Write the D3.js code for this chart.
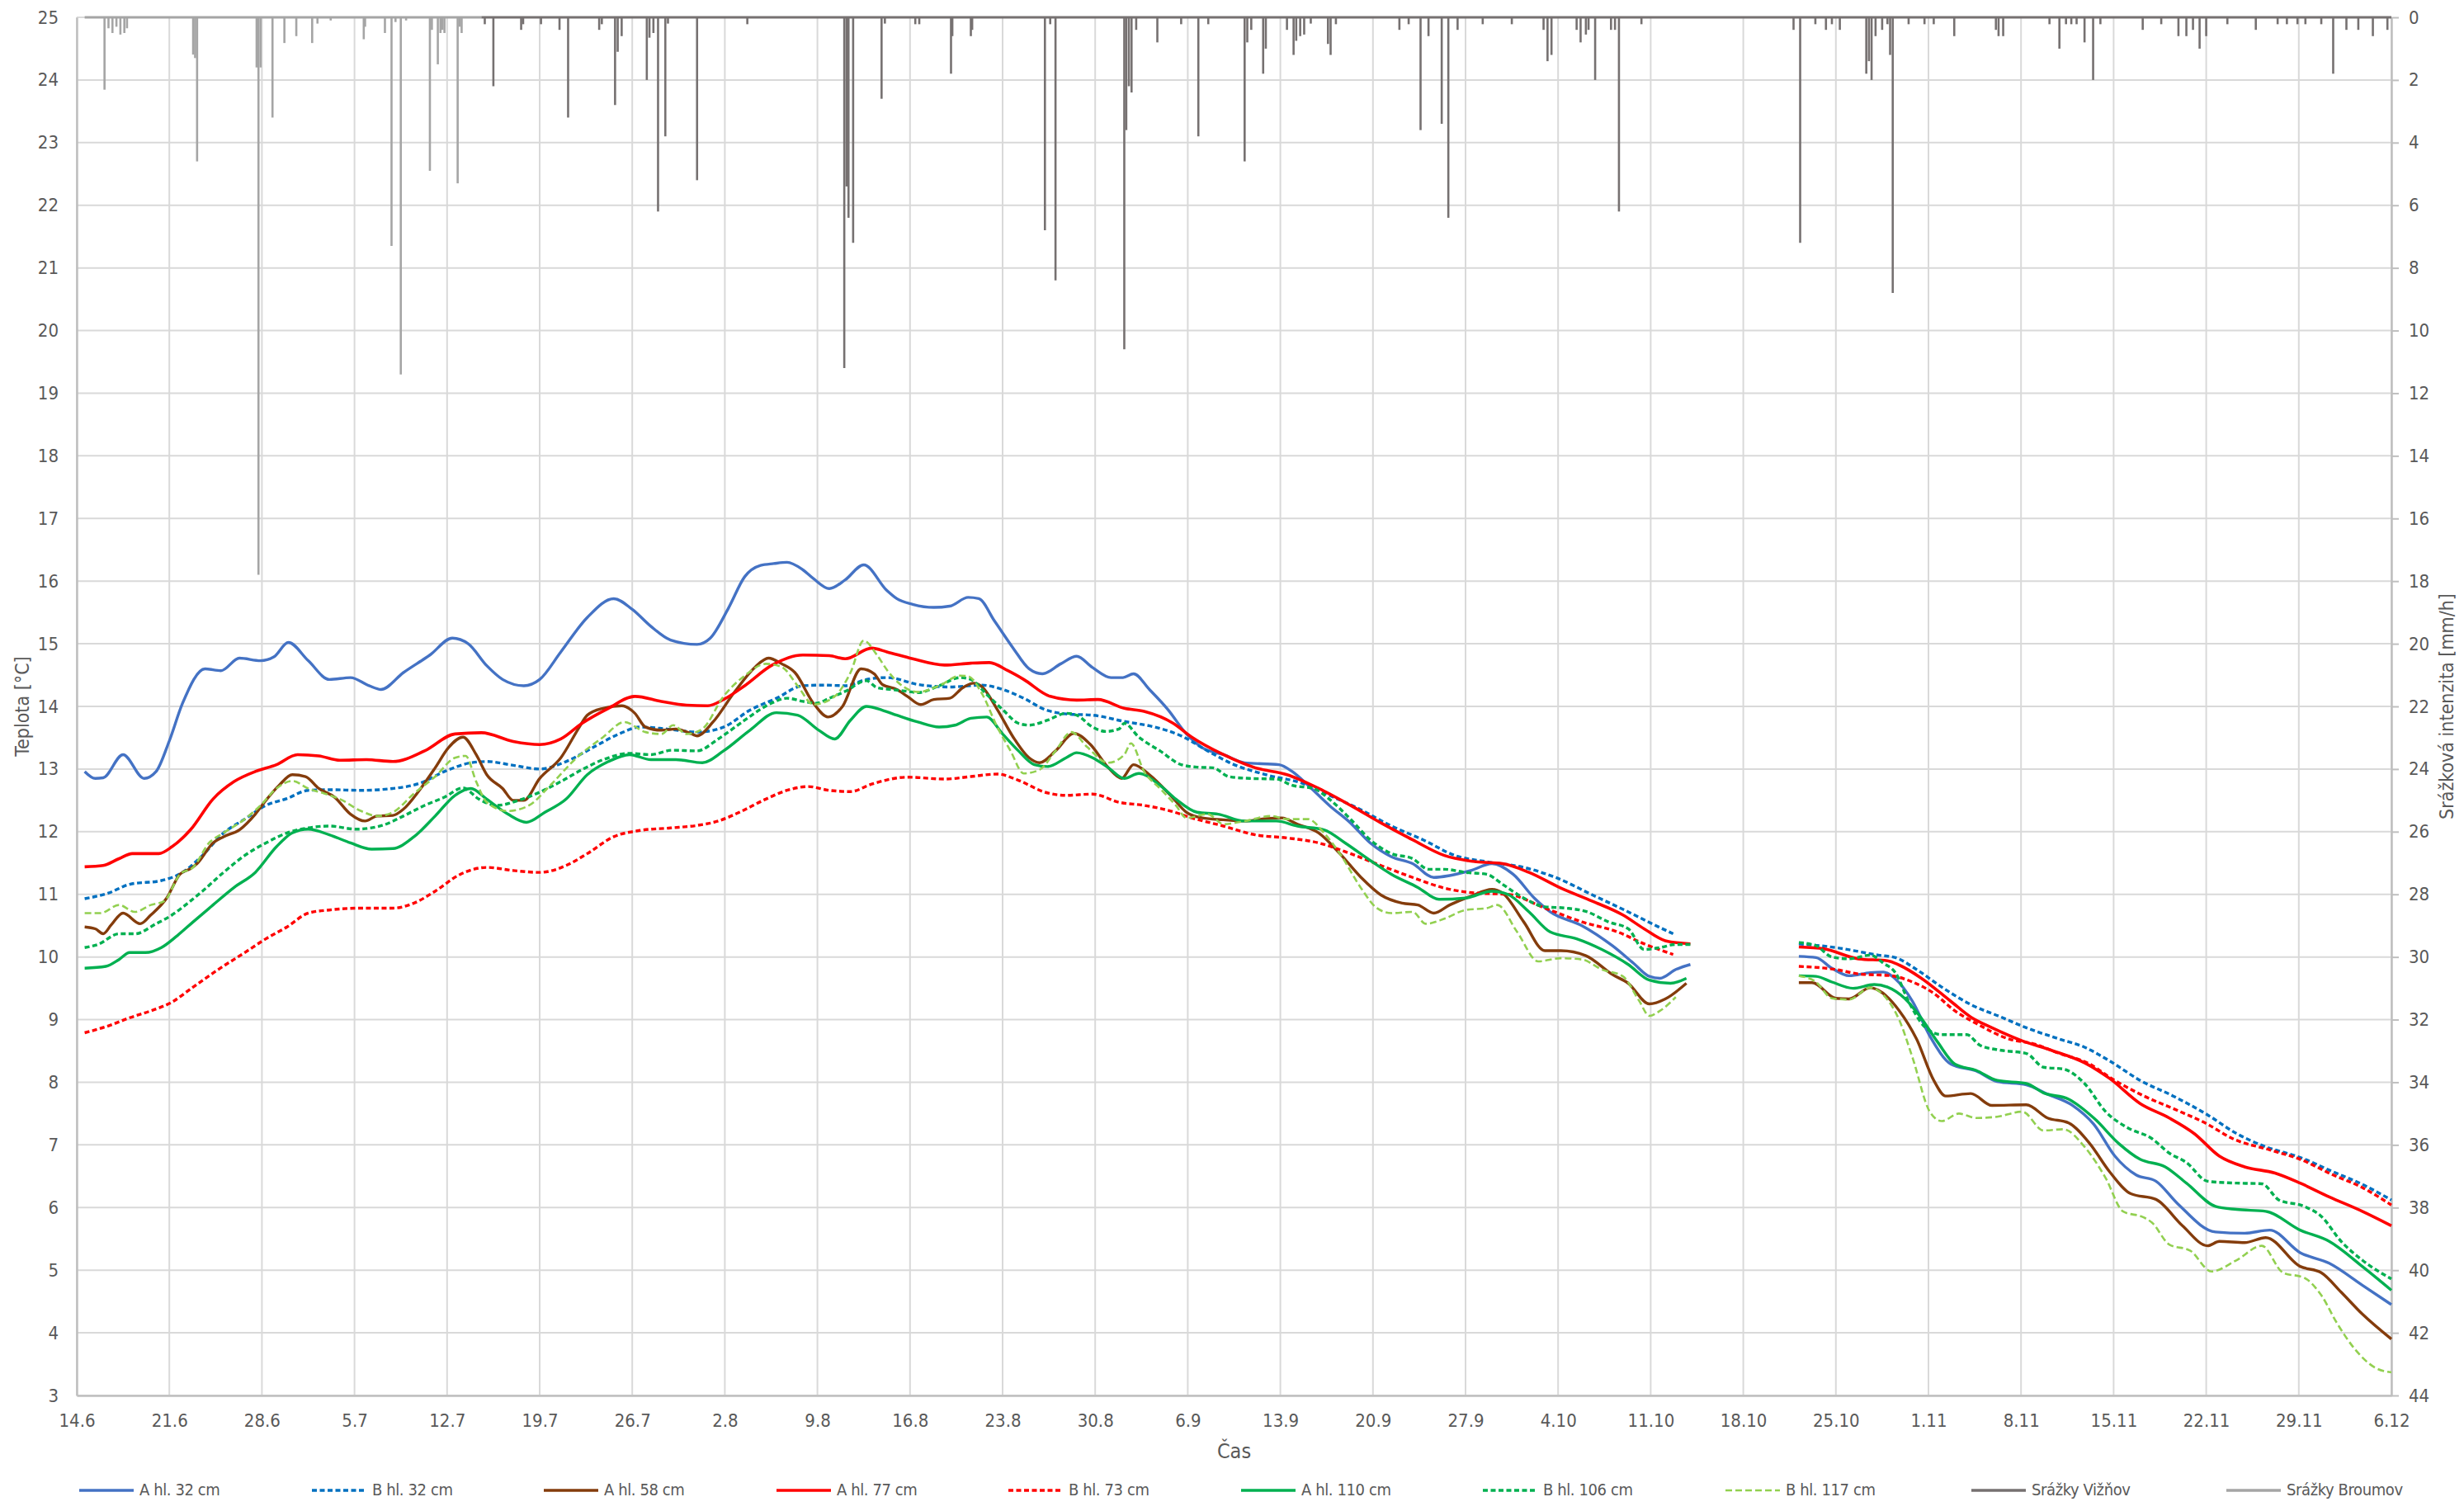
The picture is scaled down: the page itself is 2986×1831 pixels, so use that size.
<!DOCTYPE html>
<html>
<head>
<meta charset="utf-8">
<script src="https://cdn.jsdelivr.net/npm/d3@7"></script>
<style>
body { margin: 0; background: #fff; }
text { font-family: "Liberation Sans Narrow", "Arial Narrow", "DejaVu Sans Condensed", sans-serif; fill: #595959; }
</style>
</head>
<body>
<svg id="chart"></svg>
<script>
// days since 14.6., temperature in degC (null = gap in the record)
var a32 = [[0.6,12.96],[1.4,12.85],[2,12.86],[3.5,13.23],[5.1,12.85],[6,12.96],[7,13.45],[8,14.05],[9.7,14.6],[10.9,14.57],[12.3,14.77],[13.9,14.73],[14.9,14.79],[16,15.02],[17.5,14.73],[19.1,14.43],[20.7,14.46],[22.1,14.33],[23,14.27],[24.7,14.54],[26.7,14.82],[28.4,15.09],[29.6,15.0],[31,14.65],[32.2,14.43],[33.8,14.33],[35,14.43],[36.6,14.87],[38.6,15.42],[40.6,15.72],[42,15.55],[43.4,15.28],[44.9,15.06],[46.9,14.99],[47.9,15.09],[49.3,15.58],[50.5,16.07],[51.7,16.25],[52.7,16.28],[53.7,16.3],[54.9,16.18],[55.7,16.04],[56.9,15.88],[58.1,16.02],[59.5,16.26],[61.25,15.85],[62,15.72],[63.2,15.63],[64.8,15.58],[66,15.6],[67.4,15.74],[68.2,15.72],[69.4,15.36],[70.8,14.93],[72,14.6],[73,14.52],[74.4,14.68],[75.6,14.8],[76.8,14.62],[78.2,14.46],[79.1,14.46],[79.9,14.52],[81.1,14.27],[82.5,13.95],[83.9,13.56],[85.1,13.34],[86.7,13.23],[88.3,13.1],[90.9,13.07],[91.9,12.96],[93.1,12.74],[94.7,12.42],[96.3,12.14],[97.8,11.82],[99.4,11.6],[101,11.49],[102.6,11.27],[103.8,11.3],[105.4,11.38],[107,11.49],[108.6,11.32],[110.2,10.94],[111.4,10.72],[113.8,10.5],[116.1,10.18],[117.7,9.9],[118.9,9.69],[119.7,9.66],[120.9,9.8],[122,9.88],[126,null],[130.2,10.01],[131.5,9.99],[132.7,9.82],[134,9.7],[135.6,9.75],[136.6,9.76],[137.5,9.65],[138.8,9.29],[140.1,8.74],[141.7,8.29],[143.6,8.18],[145.2,8.01],[147.4,7.96],[149,7.81],[150.9,7.63],[152.5,7.33],[154.1,6.82],[155.7,6.52],[157.2,6.42],[158.8,6.07],[161.7,5.61],[163.9,5.59],[165.8,5.64],[168.1,5.28],[170.3,5.11],[172.8,4.76],[175,4.45]]

var b32 = [[0.6,10.93],[2.4,11.02],[4,11.16],[6.4,11.22],[8,11.35],[9.5,11.62],[11.1,11.98],[12.7,12.2],[14.3,12.42],[15.9,12.53],[17.5,12.66],[19.1,12.67],[21.5,12.66],[23.9,12.69],[25.9,12.77],[27.8,12.96],[29.8,13.1],[31,13.12],[33,13.06],[35,13.0],[37,13.12],[39,13.34],[41,13.56],[42.6,13.67],[44.6,13.64],[46.9,13.59],[48.9,13.67],[50.9,13.94],[52.9,14.13],[54.9,14.33],[56.5,14.34],[58.1,14.33],[59.7,14.43],[61.3,14.46],[63.6,14.35],[66,14.31],[68.4,14.34],[70,14.27],[71.6,14.13],[73.2,13.95],[74.8,13.88],[76.8,13.86],[79.2,13.76],[81.5,13.67],[83.5,13.53],[85.5,13.29],[87.5,13.07],[89.9,12.91],[92.7,12.77],[94.7,12.58],[97,12.36],[99.4,12.09],[101.8,11.87],[104.2,11.62],[106.6,11.52],[109.4,11.43],[111.8,11.27],[114.6,10.99],[117.3,10.72],[119.3,10.51],[120.7,10.37],[126,null],[130.2,10.21],[133,10.15],[136.2,10.03],[137.5,9.99],[139.1,9.8],[141,9.52],[143.2,9.24],[145.5,9.04],[147.4,8.87],[149.9,8.69],[151.8,8.56],[153.7,8.34],[156,8.03],[158.5,7.78],[161.1,7.48],[163.3,7.18],[165.5,6.97],[168.1,6.8],[170.6,6.57],[172.8,6.37],[175,6.12]]

var a58 = [[0.6,10.48],[1.4,10.45],[2,10.37],[2.6,10.51],[3.5,10.7],[4.8,10.53],[5.6,10.67],[6.8,10.94],[7.8,11.32],[8.6,11.41],[9.1,11.49],[10.3,11.82],[11.1,11.92],[12.3,12.03],[13.5,12.28],[14.3,12.5],[15.3,12.74],[16.3,12.91],[17.3,12.88],[18.3,12.69],[19.5,12.55],[20.7,12.28],[21.8,12.17],[22.7,12.25],[23.9,12.26],[24.7,12.36],[25.9,12.66],[27.1,13.02],[28.1,13.34],[29.2,13.51],[30.2,13.23],[31,12.91],[32.2,12.69],[33,12.5],[33.8,12.5],[35,12.85],[36.6,13.18],[38,13.67],[38.6,13.86],[39.8,13.97],[41.2,14.01],[42.2,13.89],[43,13.67],[44.2,13.62],[45.3,13.64],[46.5,13.56],[46.9,13.53],[48.1,13.75],[49.7,14.22],[51.3,14.63],[52.3,14.77],[53.3,14.68],[54.3,14.54],[55.7,14.05],[56.8,13.83],[57.9,14.0],[59.3,14.6],[60.3,14.52],[60.9,14.35],[62,14.27],[62.8,14.16],[63.8,14.03],[64.8,14.11],[66,14.13],[67,14.3],[67.8,14.37],[68.4,14.32],[69.6,13.95],[70.8,13.51],[72,13.18],[72.8,13.1],[74,13.29],[75.4,13.57],[76.6,13.4],[78,13.02],[79,12.85],[79.9,13.07],[81.1,12.91],[82.7,12.58],[83.9,12.31],[85.1,12.22],[86.7,12.19],[88.3,12.17],[89.9,12.21],[91.1,12.22],[92.3,12.12],[93.9,11.98],[95.5,11.65],[97.1,11.27],[98.6,10.99],[100.2,10.86],[101.4,10.83],[102.6,10.7],[103.8,10.83],[105.4,10.97],[107,11.08],[107.8,11.02],[109.4,10.56],[111,10.1],[112.2,10.1],[114.1,10.02],[116.1,9.72],[117.3,9.58],[118.9,9.25],[120.1,9.33],[121.7,9.58],[126,null],[130.2,9.59],[131.2,9.59],[133,9.34],[134,9.33],[135.6,9.51],[136.2,9.47],[137.8,9.14],[139.1,8.69],[140.4,8.03],[141.3,7.78],[143.2,7.82],[144.8,7.63],[147.4,7.64],[149,7.43],[150.6,7.35],[152.2,7.02],[153.7,6.57],[155.3,6.22],[157.2,6.13],[159.2,5.71],[161.1,5.39],[162,5.46],[163.9,5.44],[165.5,5.52],[168.1,5.06],[169.7,4.96],[171.2,4.65],[172.8,4.3],[175,3.9]]

var a77 = [[0.6,11.44],[2,11.46],[3.2,11.57],[4.2,11.65],[6.2,11.65],[7.2,11.76],[8.6,12.03],[10.3,12.52],[11.9,12.8],[13.5,12.96],[15.1,13.07],[16.7,13.23],[18.3,13.21],[19.9,13.14],[21.9,13.15],[23.9,13.12],[26.3,13.29],[28.6,13.56],[30.6,13.58],[33,13.44],[35,13.39],[36.6,13.48],[38.2,13.73],[40.2,13.97],[42.2,14.16],[44.2,14.08],[46.1,14.02],[47.7,14.01],[48.9,14.11],[50.5,14.33],[52.5,14.65],[54.9,14.82],[56.9,14.81],[58.1,14.76],[60.1,14.93],[61.25,14.87],[63.2,14.76],[65.6,14.66],[67.6,14.69],[69,14.7],[70.4,14.57],[71.6,14.43],[73.6,14.16],[75.6,14.1],[77.2,14.11],[79.2,13.97],[80.7,13.92],[82.9,13.73],[84.3,13.51],[86.7,13.23],[89.1,13.02],[91.5,12.91],[93.9,12.69],[96.3,12.42],[98.6,12.14],[101,11.87],[103.4,11.62],[105.8,11.52],[107.8,11.49],[109.8,11.35],[112.2,11.1],[114.6,10.89],[116.9,10.67],[118.5,10.45],[120.1,10.26],[122,10.21],[126,null],[130.2,10.16],[132.1,10.13],[134.7,9.97],[136.9,9.94],[137.8,9.87],[139.4,9.67],[141.7,9.29],[143.2,9.04],[144.8,8.87],[147.1,8.66],[149.3,8.51],[151.8,8.31],[153.7,8.06],[156,7.66],[158.2,7.43],[160.1,7.18],[162,6.82],[163.9,6.65],[166.2,6.55],[168.1,6.39],[170.3,6.17],[172.8,5.94],[175,5.71]]

var b73 = [[0.6,8.79],[2.4,8.9],[4,9.03],[5.6,9.14],[7.2,9.28],[8.8,9.52],[10.7,9.8],[12.7,10.07],[14.3,10.29],[15.9,10.48],[17.5,10.7],[19.1,10.75],[21.5,10.78],[23.9,10.78],[25.5,10.86],[27.1,11.05],[29,11.32],[31,11.43],[33,11.38],[35,11.35],[37,11.46],[38.6,11.65],[40.6,11.92],[42.6,12.02],[44.9,12.06],[46.9,12.1],[48.5,12.17],[50.1,12.31],[52.1,12.52],[53.7,12.66],[55.3,12.72],[56.9,12.66],[58.5,12.64],[60.1,12.76],[62.8,12.87],[65.6,12.84],[67.6,12.88],[69.6,12.92],[71.2,12.82],[73.2,12.63],[74.8,12.58],[76.8,12.6],[78.8,12.47],[80.7,12.42],[82.7,12.33],[84.3,12.22],[86.7,12.09],[89.1,11.95],[91.5,11.9],[93.9,11.82],[96.3,11.65],[98.6,11.46],[101,11.27],[103.4,11.1],[105.8,11.02],[108.2,11.0],[111,10.78],[113.8,10.56],[116.5,10.4],[118.5,10.21],[120.7,10.04],[126,null],[130.2,9.85],[133,9.8],[134.7,9.73],[137.2,9.7],[138.8,9.6],[140.4,9.42],[142,9.14],[143.6,8.94],[146.1,8.69],[148,8.61],[149.9,8.46],[152.2,8.29],[153.7,8.08],[156.3,7.78],[158.5,7.58],[161.1,7.33],[163,7.1],[165.8,6.92],[168.1,6.77],[170.6,6.52],[172.8,6.32],[175,6.04]]

var a110 = [[0.6,9.82],[2.2,9.85],[3.2,9.96],[4,10.07],[5.2,10.07],[6.4,10.15],[7.6,10.34],[8.8,10.56],[10.3,10.83],[11.9,11.11],[13.5,11.35],[15.1,11.76],[16.3,11.98],[17.5,12.04],[19.1,11.95],[20.7,11.82],[22.3,11.72],[23.9,11.73],[25.5,11.92],[27.1,12.25],[28.6,12.58],[29.8,12.69],[31,12.52],[32.6,12.28],[34,12.15],[35.4,12.31],[37,12.52],[38.6,12.91],[40.2,13.12],[41.8,13.23],[43.4,13.15],[45.3,13.15],[47.3,13.1],[48.9,13.29],[50.9,13.62],[52.9,13.9],[54.5,13.86],[56.1,13.62],[57.3,13.48],[58.5,13.78],[59.7,14.0],[60.9,13.94],[62,13.86],[63.6,13.75],[65.2,13.67],[66.4,13.7],[67.6,13.81],[68.8,13.83],[70,13.56],[71.2,13.29],[72.4,13.07],[73.4,13.04],[74.8,13.18],[75.6,13.26],[76.8,13.18],[78,13.02],[79.2,12.85],[80.3,12.93],[81.9,12.74],[83.1,12.52],[84.7,12.31],[86.3,12.28],[88.3,12.17],[90.7,12.17],[92.3,12.09],[94.3,12.03],[95.9,11.82],[97.8,11.54],[99.4,11.32],[101.4,11.11],[103,10.92],[105,10.94],[107,11.05],[108.2,11.0],[109.8,10.72],[111.4,10.4],[113.4,10.29],[115.3,10.12],[117.3,9.88],[118.9,9.63],[120.5,9.58],[121.7,9.66],[126,null],[130.2,9.7],[131.5,9.69],[132.7,9.6],[134.3,9.5],[135.9,9.56],[136.9,9.52],[138.2,9.34],[139.4,9.04],[140.7,8.64],[142,8.29],[143.6,8.19],[145.2,8.03],[147.4,7.98],[148.7,7.83],[150.6,7.73],[152.5,7.43],[154.4,7.02],[156,6.77],[157.9,6.65],[159.5,6.39],[161.7,6.02],[163.3,5.97],[165.5,5.94],[168.1,5.64],[170.3,5.46],[172.8,5.06],[175,4.68]]

var b106 = [[0.6,10.15],[1.6,10.2],[3.2,10.37],[4.4,10.37],[6,10.53],[7.2,10.67],[8.4,10.86],[9.5,11.05],[11.1,11.35],[12.7,11.62],[14.3,11.82],[15.9,11.98],[17.5,12.06],[19.1,12.09],[21.1,12.04],[23.1,12.1],[24.7,12.25],[26.3,12.42],[27.8,12.55],[29.2,12.7],[30.4,12.52],[31.8,12.42],[33.4,12.5],[35,12.63],[36.6,12.8],[38.2,12.99],[39.8,13.15],[41.8,13.25],[43.4,13.23],[45,13.3],[46.9,13.29],[48.5,13.48],[50.5,13.78],[52.5,14.05],[53.7,14.13],[54.9,14.08],[55.9,14.05],[56.9,14.13],[58.1,14.24],[59.7,14.41],[60.5,14.3],[61.6,14.27],[62.8,14.24],[63.6,14.22],[65.2,14.33],[66.8,14.46],[67.6,14.43],[68.8,14.19],[70,13.95],[71.2,13.73],[72,13.7],[73.4,13.78],[74.8,13.89],[75.6,13.86],[76.8,13.67],[77.8,13.6],[78.8,13.64],[79.2,13.73],[80.3,13.51],[81.9,13.29],[83.5,13.07],[84.7,13.03],[85.9,13.02],[87.1,12.88],[88.7,12.85],[90.7,12.84],[91.9,12.74],[93.5,12.69],[94.7,12.52],[96.3,12.2],[97.8,11.87],[99.4,11.65],[101,11.57],[102.2,11.4],[103.4,11.4],[105,11.35],[106.6,11.32],[107.8,11.16],[109.4,10.94],[111,10.8],[112.6,10.78],[114.2,10.72],[115.8,10.56],[117.3,10.45],[118.5,10.12],[119.7,10.15],[120.9,10.2],[122,10.2],[126,null],[130.2,10.23],[131.5,10.18],[132.7,10.0],[134,9.97],[135.6,10.03],[136.6,9.9],[137.5,9.75],[138.5,9.29],[139.7,8.89],[141,8.76],[142.9,8.76],[143.9,8.59],[145.5,8.51],[147.4,8.46],[148.7,8.24],[150.2,8.21],[151.8,7.98],[153.4,7.53],[155,7.28],[156.9,7.1],[158.2,6.87],[159.5,6.72],[161.1,6.42],[163.3,6.39],[165.2,6.38],[166.5,6.12],[168.4,6.02],[169.7,5.86],[171.2,5.46],[172.8,5.16],[175,4.86]]

var b117 = [[0.6,10.7],[1.8,10.7],[3.2,10.83],[4.4,10.72],[5.6,10.83],[6.6,10.89],[7.8,11.32],[8.8,11.43],[10,11.82],[11.1,11.98],[12.7,12.2],[13.9,12.42],[15.1,12.69],[16.3,12.81],[17.5,12.69],[18.7,12.61],[19.9,12.52],[21.5,12.33],[22.7,12.25],[23.9,12.31],[25.5,12.61],[27.1,12.88],[28.6,13.18],[29.4,13.21],[30.2,12.8],[31,12.47],[32.6,12.33],[34.2,12.42],[35.8,12.74],[37.8,13.18],[39.8,13.51],[41.4,13.75],[43,13.59],[44.2,13.56],[45.1,13.7],[46.1,13.56],[47.3,13.64],[48.9,14.16],[50.5,14.49],[52.1,14.68],[53.3,14.63],[54.5,14.33],[55.7,14.03],[57.3,14.16],[58.5,14.54],[59.5,15.05],[60.5,14.82],[61.3,14.57],[62.4,14.33],[63.6,14.23],[65.2,14.33],[66.8,14.49],[67.4,14.48],[68.4,14.22],[69.6,13.67],[70.6,13.29],[71.6,12.93],[72.8,12.99],[74,13.29],[75.2,13.59],[76.4,13.35],[78,13.1],[79.2,13.23],[79.7,13.41],[80.7,12.96],[81.9,12.69],[83.1,12.42],[83.9,12.22],[85.5,12.28],[86.7,12.12],[88.3,12.17],[90.3,12.25],[91.5,12.2],[93.1,12.2],[94.3,11.98],[95.5,11.65],[97.1,11.1],[98.3,10.78],[99.4,10.7],[101,10.72],[102,10.53],[103.4,10.61],[105,10.75],[106.6,10.78],[107.4,10.83],[108.9,10.4],[110.5,9.93],[112.2,9.98],[113.8,9.96],[115.3,9.8],[116.9,9.69],[118.1,9.31],[118.9,9.06],[119.7,9.14],[120.9,9.36],[126,null],[130.2,9.7],[131.5,9.6],[132.7,9.34],[134,9.32],[135.6,9.51],[136.6,9.39],[137.8,8.99],[138.8,8.39],[140.1,7.53],[141,7.38],[142.3,7.5],[143.6,7.43],[145.2,7.45],[147.1,7.53],[148.7,7.23],[150.2,7.25],[151.8,6.97],[153.4,6.47],[154.7,5.94],[156.3,5.84],[156.9,5.76],[158.2,5.41],[159.8,5.31],[161.4,4.98],[163.3,5.16],[165.2,5.39],[166.8,4.96],[168.4,4.88],[169.7,4.6],[170.9,4.15],[172.2,3.75],[173.8,3.44],[175,3.37]]

// rain intensity [mm/h]: [day, value], spikes only (zero elsewhere)
var broumovSpan = [0.6, 30.6]
var broumov = [[2.1,2.31],[2.4,0.35],[2.7,0.5],[3.0,0.3],[3.3,0.55],[3.6,0.5],[3.8,0.35],[8.8,1.19],[8.95,1.3],[9.1,4.6],[13.6,1.6],[13.74,17.8],[13.9,1.6],[14.8,3.2],[15.7,0.82],[16.6,0.6],[17.8,0.82],[18.2,0.2],[19.2,0.1],[21.7,0.7],[21.8,0.3],[23.3,0.5],[23.8,7.3],[24.1,0.15],[24.5,11.4],[24.9,0.1],[26.7,4.9],[26.85,0.4],[27.3,1.5],[27.5,0.5],[27.65,0.4],[27.8,0.5],[28.8,5.3],[28.95,0.3],[29.1,0.5]]

var viznovSpan = [30.6, 175]
var viznov = [[30.85,0.22],[31.5,2.2],[33.6,0.4],[33.75,0.22],[35.1,0.22],[36.5,0.4],[37.15,3.2],[39.5,0.4],[39.7,0.22],[40.7,2.8],[40.9,1.1],[41.2,0.6],[43.1,2.0],[43.3,0.65],[43.6,0.5],[43.95,6.2],[44.5,3.8],[44.7,0.2],[46.9,5.2],[50.7,0.22],
  [58.03,11.2],[58.2,5.4],[58.35,6.4],[58.7,7.2],[60.85,2.6],[61.1,0.2],[63.4,0.22],[63.7,0.22],[66.1,1.8],[66.2,0.6],[67.6,0.6],[67.7,0.4],[73.2,6.8],[73.6,0.22],[74.0,8.4],[79.2,10.6],[79.35,3.6],[79.55,2.2],[79.75,2.4],[80.1,0.4],[81.7,0.8],[83.5,0.22],[84.8,3.8],[85.55,0.22],[88.3,4.6],[88.5,0.8],[88.8,0.4],[89.7,1.8],[89.9,1.0],[91.5,0.4],[92.0,1.2],[92.2,0.75],[92.5,0.6],[92.8,0.55],[93.3,0.2],[94.6,0.85],[94.8,1.2],[95.2,0.22],[100.0,0.4],[100.7,0.22],[101.6,3.6],[102.2,0.6],[103.2,3.4],[103.7,6.4],[104.4,0.4],[106.3,0.22],[108.5,0.22],[110.9,0.4],[111.2,1.4],[111.5,1.2],[113.4,0.4],[113.7,0.8],[114.1,0.55],[114.3,0.4],[114.8,2.0],
  [116.0,0.4],[116.3,0.4],[116.6,6.2],[118.3,0.22],[129.8,0.4],[130.3,7.2],[131.45,0.22],[132.25,0.4],[132.7,0.22],[133.3,0.4],[135.3,1.8],[135.5,1.4],[135.7,2.0],[136.0,0.6],[136.5,0.4],[136.9,0.22],[137.1,1.2],[137.3,8.8],[138.5,0.22],[139.7,0.22],[140.4,0.22],[141.95,0.6],[145.1,0.4],[145.3,0.6],[145.65,0.6],[149.15,0.22],[149.9,1.0],[150.4,0.22],[150.8,0.22],[151.2,0.22],[151.8,0.8],[152.45,2.0],[153.0,0.22],[156.2,0.4],[157.6,0.22],[158.9,0.6],[159.5,0.6],[160.0,0.4],[160.5,1.0],[161.0,0.6],[162.6,0.22],[164.75,0.4],[166.4,0.22],[167.1,0.22],[167.9,0.22],[168.5,0.22],[169.7,0.22],[170.6,1.8],[171.6,0.4],[172.5,0.4],[173.6,0.6],[174.7,0.4]]

var tickDays = d3.range(0, 176, 7)
var tempTicks = d3.range(3, 26, 1)
var rainTicks = d3.range(0, 45, 2)

var W = 2986, H = 1831
var margin = {left: 93, right: 88, top: 21, bottom: 140}
var width = W - margin.left - margin.right
var height = H - margin.top - margin.bottom

var svg = d3.select('#chart').attr('width', W).attr('height', H)
svg.append('rect').attr('width', W).attr('height', H).attr('fill', '#fff')
var g = svg.append('g').attr('transform', 'translate(' + margin.left + ',' + margin.top + ')')

var start = new Date(Date.UTC(2021, 5, 14))
function day(d){ return d3.utcMinute.offset(start, Math.round(d * 1440)) }

var x = d3.scaleUtc().domain([start, day(175)]).range([0, width])
var y = d3.scaleLinear().domain([3, 25]).range([height, 0])
var y2 = d3.scaleLinear().domain([0, 44]).range([0, height])

// grid
g.append('g').selectAll('line').data(tempTicks).join('line')
  .attr('x1', 0).attr('x2', width)
  .attr('y1', function(d){ return y(d) }).attr('y2', function(d){ return y(d) })
  .attr('stroke', '#d9d9d9').attr('stroke-width', 2)
g.append('g').selectAll('line').data(tickDays).join('line')
  .attr('x1', function(d){ return x(day(d)) }).attr('x2', function(d){ return x(day(d)) })
  .attr('y1', 0).attr('y2', height)
  .attr('stroke', '#d9d9d9').attr('stroke-width', 2)

// axes
var fmt = d3.utcFormat('%-d.%-m')
g.append('g').attr('transform', 'translate(0,' + height + ')')
  .call(d3.axisBottom(x).tickValues(tickDays.map(day)).tickFormat(fmt).tickSize(0).tickPadding(22))
g.append('g')
  .call(d3.axisLeft(y).tickValues(tempTicks).tickFormat(d3.format('d')).tickSize(0).tickPadding(22))
g.append('g').attr('transform', 'translate(' + width + ',0)')
  .call(d3.axisRight(y2).tickValues(rainTicks).tickSize(9).tickSizeOuter(0).tickPadding(12))

g.selectAll('.domain').attr('stroke', '#bfbfbf').attr('stroke-width', 2.5)
g.selectAll('.tick line').attr('stroke', '#bfbfbf').attr('stroke-width', 2)
g.selectAll('.tick text').attr('font-size', 22).attr('fill', '#595959')
  .style('font-family', '"Liberation Sans Narrow", "Arial Narrow", "DejaVu Sans Condensed", sans-serif')

// precipitation (secondary axis, hanging from the top)
function drawRain(data, span, color){
  var rg = g.append('g')
  rg.append('line')
    .attr('x1', x(day(span[0]))).attr('x2', x(day(span[1])))
    .attr('y1', y2(0)).attr('y2', y2(0))
    .attr('stroke', color).attr('stroke-width', 3)
  rg.selectAll('line.spike').data(data).join('line').attr('class', 'spike')
    .attr('x1', function(d){ return x(day(d[0])) }).attr('x2', function(d){ return x(day(d[0])) })
    .attr('y1', y2(0)).attr('y2', function(d){ return y2(d[1]) })
    .attr('stroke', color).attr('stroke-width', 2.6)
}
drawRain(broumov, broumovSpan, '#a5a5a5')
drawRain(viznov, viznovSpan, '#767171')

// temperatures
var series = [
  {name: 'A hl. 32 cm', values: a32, color: '#4472c4', dash: null, w: 3.4},
  {name: 'B hl. 32 cm', values: b32, color: '#0070c0', dash: '6,3.5', w: 3.4},
  {name: 'A hl. 58 cm', values: a58, color: '#843c0c', dash: null, w: 3.4},
  {name: 'A hl. 77 cm', values: a77, color: '#ff0000', dash: null, w: 3.6},
  {name: 'B hl. 73 cm', values: b73, color: '#ff0000', dash: '6,3.5', w: 3.4},
  {name: 'A hl. 110 cm', values: a110, color: '#00b050', dash: null, w: 3.4},
  {name: 'B hl. 106 cm', values: b106, color: '#00b050', dash: '6,3.5', w: 3.4},
  {name: 'B hl. 117 cm', values: b117, color: '#92d050', dash: '8,4', w: 2.6}
]

var line = d3.line()
  .defined(function(d){ return d[1] != null })
  .x(function(d){ return x(day(d[0])) })
  .y(function(d){ return y(d[1]) })
  .curve(d3.curveMonotoneX)

g.append('g').selectAll('path').data(series).join('path')
  .attr('d', function(d){ return line(d.values) })
  .attr('fill', 'none')
  .attr('stroke', function(d){ return d.color })
  .attr('stroke-width', function(d){ return d.w })
  .attr('stroke-dasharray', function(d){ return d.dash })
  .attr('stroke-linejoin', 'round')

// titles
svg.append('text').text('Teplota [°C]')
  .attr('transform', 'translate(28,' + (margin.top + height / 2) + ') rotate(-90)')
  .attr('text-anchor', 'middle').attr('dominant-baseline', 'middle').attr('font-size', 23)
svg.append('text').text('Srážková intenzita [mm/h]')
  .attr('transform', 'translate(2966,' + (margin.top + height / 2) + ') rotate(-90)')
  .attr('text-anchor', 'middle').attr('dominant-baseline', 'middle').attr('font-size', 23)
svg.append('text').text('Čas')
  .attr('x', margin.left + width / 2).attr('y', 1760)
  .attr('text-anchor', 'middle').attr('dominant-baseline', 'middle').attr('font-size', 25)

// legend
var legendItems = series.concat([
  {name: 'Srážky Vižňov', color: '#767171', dash: null, w: 3.4},
  {name: 'Srážky Broumov', color: '#a5a5a5', dash: null, w: 3.4}
])
var legendX = [96, 378, 659, 941, 1222, 1504, 1797, 2091, 2389, 2698]
var lg = svg.append('g').selectAll('g').data(legendItems).join('g')
  .attr('transform', function(d, i){ return 'translate(' + legendX[i] + ',1806)' })
lg.append('line').attr('x1', 0).attr('x2', 66)
  .attr('stroke', function(d){ return d.color })
  .attr('stroke-width', function(d){ return d.w })
  .attr('stroke-dasharray', function(d){ return d.dash })
lg.append('text').text(function(d){ return d.name })
  .attr('x', 73).attr('dominant-baseline', 'middle').attr('font-size', 20)
  .attr('letter-spacing', -0.4)
</script>
</body>
</html>
